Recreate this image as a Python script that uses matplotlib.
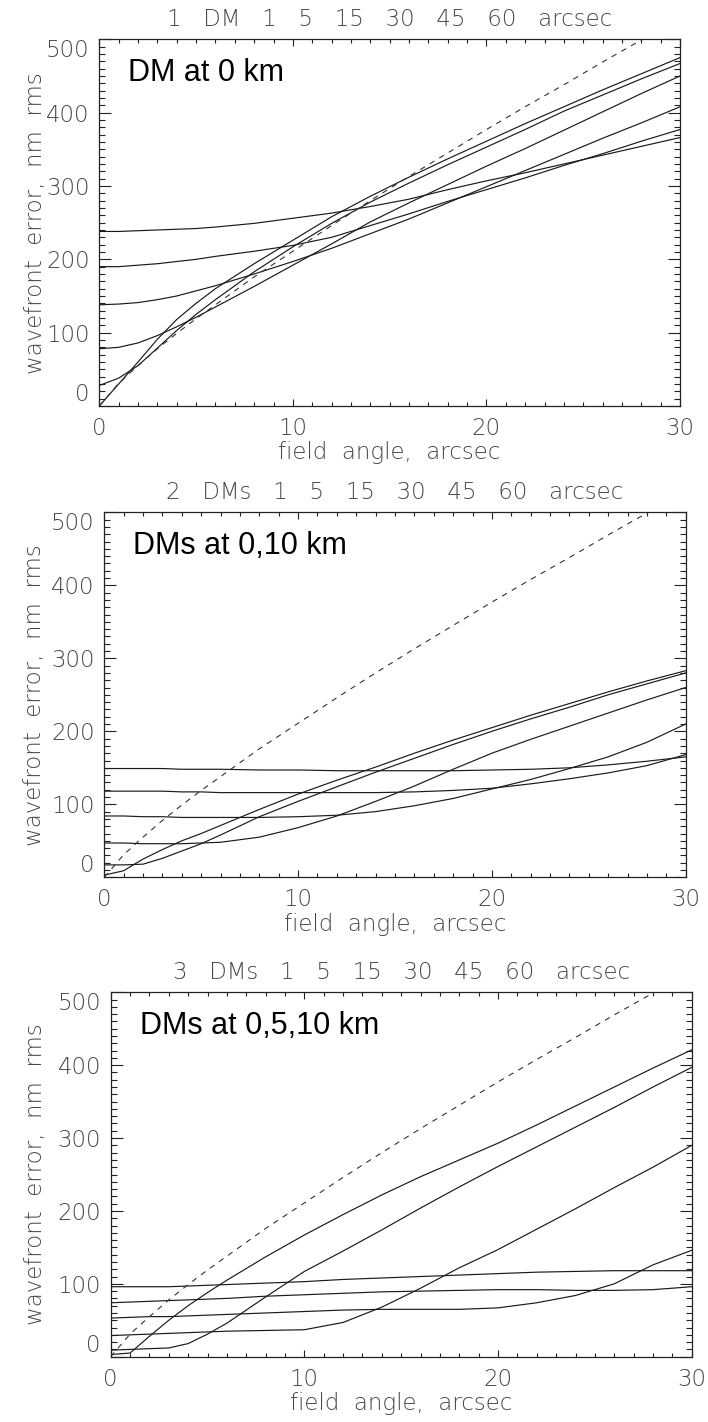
import matplotlib
matplotlib.use("Agg")
import matplotlib.pyplot as plt
from matplotlib.ticker import MultipleLocator

# ---------------- data ----------------
field_angle = [0, 1, 2, 3, 4, 5, 6, 8, 10, 12, 14, 16, 18, 20, 22, 24, 26, 28, 30]

# uncorrected / reference (dashed), same in all panels
reference = [0, 31, 55, 78, 99, 119, 138, 176, 211, 246, 280, 313, 345, 377, 408, 438, 469, 499, 528]

# 1 DM at 0 km, guide-star separations 1 5 15 30 45 60 arcsec
dm1_r1  = [0, 30, 60, 91, 118, 140, 160, 194, 226, 258, 286, 312, 337, 361, 385, 408, 431, 453, 475]
dm1_r5  = [28, 38, 55, 79, 103, 125, 145, 183, 217, 249, 278, 304, 329, 353, 377, 402, 424, 446, 467]
dm1_r15 = [78, 80, 86, 96, 108, 121, 135, 163, 192, 221, 251, 277, 302, 327, 351, 376, 401, 426, 450]
dm1_r30 = [138, 139, 141, 145, 150, 157, 164, 180, 197, 215, 235, 255, 277, 299, 321, 343, 365, 386, 408]
dm1_r45 = [190, 190, 192, 194, 197, 200, 204, 211, 219, 230, 246, 262, 279, 295, 311, 328, 344, 361, 377]
dm1_r60 = [238, 238, 239, 240, 241, 242, 244, 249, 256, 263, 272, 282, 295, 307, 318, 330, 342, 354, 366]

# 2 DMs at 0,10 km
dm2_r1  = [3, 9, 25, 38, 50, 60, 71, 93, 114, 133, 151, 170, 188, 205, 222, 238, 254, 269, 283]
dm2_r5  = [17, 17, 18, 26, 36, 46, 58, 83, 104, 124, 144, 163, 182, 200, 217, 233, 250, 265, 280]
dm2_r15 = [47, 47, 46, 46, 46, 47, 48, 55, 68, 84, 104, 125, 148, 170, 189, 207, 225, 243, 260]
dm2_r30 = [84, 84, 83, 83, 82, 82, 82, 82, 83, 85, 90, 98, 108, 121, 134, 149, 165, 185, 210]
dm2_r45 = [118, 118, 118, 118, 117, 117, 116, 116, 116, 116, 116, 117, 119, 122, 128, 135, 143, 153, 168]
dm2_r60 = [149, 149, 149, 149, 148, 148, 148, 147, 147, 146, 146, 146, 146, 147, 148, 150, 154, 159, 165]

# 3 DMs at 0,5,10 km
dm3_r1  = [3, 5, 28, 50, 70, 88, 105, 137, 167, 195, 222, 247, 270, 293, 318, 344, 370, 396, 421]
dm3_r5  = [9, 10, 11, 12, 18, 31, 46, 82, 117, 145, 174, 204, 233, 261, 288, 315, 342, 370, 397]
dm3_r15 = [29, 30, 31, 32, 33, 34, 35, 36, 37, 47, 68, 94, 122, 147, 175, 203, 232, 260, 290]
dm3_r30 = [53, 54, 55, 55, 56, 57, 58, 60, 62, 64, 65, 65, 65, 67, 74, 84, 100, 126, 146]
dm3_r45 = [74, 75, 76, 77, 78, 79, 80, 83, 85, 87, 89, 90, 91, 92, 92, 91, 91, 92, 96]
dm3_r60 = [96, 96, 96, 96, 97, 98, 99, 101, 103, 106, 108, 110, 112, 114, 116, 117, 118, 118, 118]

titles = ["1 DM 1 5 15 30 45 60 arcsec",
          "2 DMs 1 5 15 30 45 60 arcsec",
          "3 DMs 1 5 15 30 45 60 arcsec"]
notes = ["DM at 0 km", "DMs at 0,10 km", "DMs at 0,5,10 km"]
xlabel = "field angle, arcsec"
ylabel = "wavefront error, nm rms"
xticks = [0, 10, 20, 30]
yticks = [0, 100, 200, 300, 400, 500]

panels = [
    [dm1_r1, dm1_r5, dm1_r15, dm1_r30, dm1_r45, dm1_r60],
    [dm2_r1, dm2_r5, dm2_r15, dm2_r30, dm2_r45, dm2_r60],
    [dm3_r1, dm3_r5, dm3_r15, dm3_r30, dm3_r45, dm3_r60],
]

# ---------------- layout ----------------
W, H = 708, 1422
fig = plt.figure(figsize=(W / 100, H / 100), dpi=100)
fig.patch.set_facecolor("white")

# axes rectangles in pixels: left, top, right, bottom
rects_px = [(99.3, 39.3, 680.0, 406.0),
            (104.3, 512.3, 685.7, 877.3),
            (110.7, 992.3, 691.7, 1356.7)]

txt_color = "#484848"
txt_font = ["DejaVu Sans"]
txt_weight = "light"
fs = 16.5


def spaced(s, n):
    return (" " * n).join(s.split(" "))


for i, (l, t, r, b) in enumerate(rects_px):
    ax = fig.add_axes([l / W, 1 - b / H, (r - l) / W, (b - t) / H])
    wpx, hpx = r - l, b - t
    for ys in panels[i]:
        ax.plot(field_angle, ys, color="#1a1a1a", lw=0.85)
    ax.plot(field_angle, reference, color="#333333", lw=0.8, linestyle=(0, (5, 5)))

    ax.set_xlim(0, 30)
    ax.set_ylim(0, 500)
    ax.set_xticks(xticks)
    ax.set_yticks(yticks)
    ax.xaxis.set_minor_locator(MultipleLocator(1))
    ax.yaxis.set_minor_locator(MultipleLocator(10))
    for s in ax.spines.values():
        s.set_linewidth(0.9)
        s.set_color("#222222")
    ax.tick_params(axis="both", which="both", direction="in", top=True, right=True,
                   width=0.8, color="#222222", labelcolor=txt_color, labelsize=fs)
    ax.tick_params(axis="y", which="major", length=8.3, pad=7)
    ax.tick_params(axis="y", which="minor", length=4.2)
    ax.tick_params(axis="x", which="major", length=5.3, pad=8)
    ax.tick_params(axis="x", which="minor", length=2.6)
    for lab in ax.get_xticklabels() + ax.get_yticklabels():
        lab.set_fontfamily(txt_font)
        lab.set_fontweight(txt_weight)
    yt = ax.yaxis.get_major_ticks()
    yt[0].label1.set_verticalalignment("bottom")
    yt[-1].label1.set_verticalalignment("top")

    ax.text(0.5, 1 + 20 / hpx, spaced(titles[i], 3), transform=ax.transAxes,
            ha="center", va="center", fontsize=fs, color=txt_color, family=txt_font,
            fontweight=txt_weight)
    ax.text(0.5, -47 / hpx, spaced(xlabel, 2), transform=ax.transAxes,
            ha="center", va="center", fontsize=fs, color=txt_color, family=txt_font,
            fontweight=txt_weight)
    ax.text((35 - l) / wpx, 0.5, spaced(ylabel, 2), transform=ax.transAxes,
            ha="center", va="center", rotation=90, fontsize=fs, color=txt_color,
            family=txt_font, fontweight=txt_weight)
    ax.text(29 / wpx, 1 - 42 / hpx, notes[i], transform=ax.transAxes,
            ha="left", va="baseline", fontsize=22, color="black",
            family=["Liberation Sans", "DejaVu Sans"])

fig.savefig("out.png", dpi=100, facecolor="white")
